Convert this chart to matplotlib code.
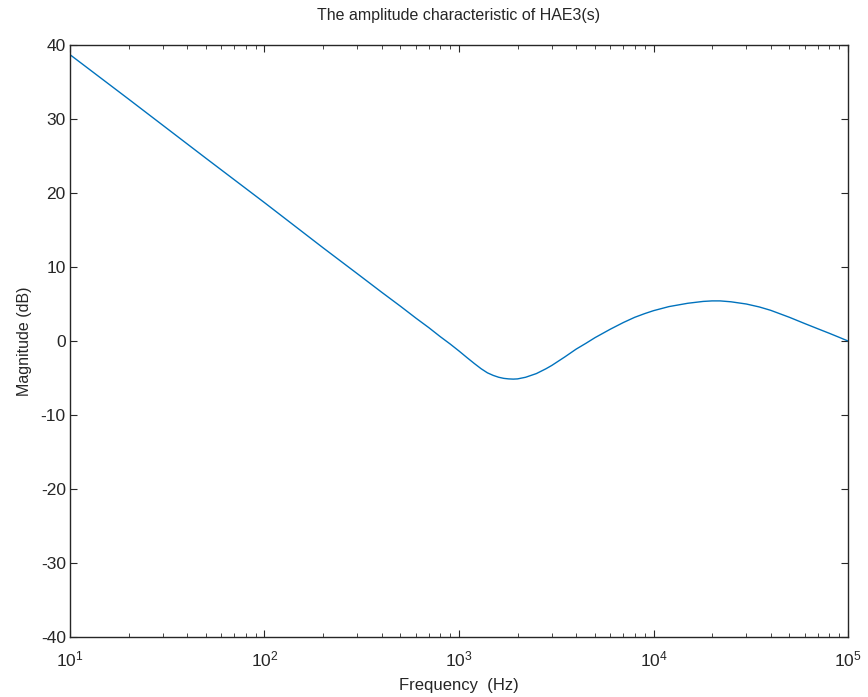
import matplotlib
matplotlib.use("Agg")
import matplotlib.pyplot as plt
from matplotlib.ticker import LogLocator, FixedLocator

plt.rcParams['font.family'] = ['Liberation Sans', 'DejaVu Sans']
plt.rcParams['axes.unicode_minus'] = False

freq_hz = [10, 20, 50, 100, 200, 300, 400, 500, 600, 700, 800, 900, 1000, 1100,
           1200, 1300, 1400, 1500, 1600, 1700, 1800, 1900, 2000, 2200, 2500, 2800, 3000,
           3500, 4000, 4500, 5000, 6000, 7000, 8000, 9000, 10000, 12000, 15000, 18000,
           20000, 22000, 25000, 30000, 35000, 40000, 50000, 60000, 70000, 80000, 90000,
           100000]
magnitude_db = [38.7, 32.7, 24.7, 18.7, 12.6, 9.1, 6.6, 4.7, 3.1, 1.8, 0.6, -0.4, -1.35, -2.25,
                -3.05, -3.75, -4.3, -4.65, -4.9, -5.05, -5.12, -5.15, -5.12, -4.9, -4.4, -3.75, -3.3,
                -2.15, -1.1, -0.3, 0.45, 1.6, 2.5, 3.2, 3.7, 4.1, 4.65, 5.1, 5.35,
                5.42, 5.42, 5.3, 5.0, 4.6, 4.15, 3.2, 2.35, 1.65, 1.05, 0.5,
                0.0]
y_ticks = [-40, -30, -20, -10, 0, 10, 20, 30, 40]

fig = plt.figure(figsize=(8.68, 6.97), dpi=100)
ax = fig.add_axes([0.0806, 0.0861, 0.8964, 0.8493])
ax.plot(freq_hz, magnitude_db, color='#0072BD', linewidth=1.0)
ax.set_xscale('log')
ax.set_xlim(10, 1e5)
ax.set_ylim(-40, 40)
ax.yaxis.set_major_locator(FixedLocator(y_ticks))
ax.xaxis.set_major_locator(LogLocator(base=10, numticks=10))
ax.xaxis.set_minor_locator(LogLocator(base=10, subs=range(2, 10), numticks=20))
ax.tick_params(which='both', direction='in', top=True, right=True, labelsize=12.5, colors='#262626')
ax.tick_params(which='major', length=5, pad=3)
ax.tick_params(which='minor', length=3)
ax.tick_params(axis='x', which='major', pad=9)
for s in ax.spines.values():
    s.set_color('#262626')
    s.set_linewidth(1.0)
ax.set_title('The amplitude characteristic of HAE3(s)', fontsize=11.5, color='#262626', pad=18)
ax.set_xlabel('Frequency  (Hz)', fontsize=12, color='#262626', labelpad=6)
ax.set_ylabel('Magnitude (dB)', fontsize=11.5, color='#262626', labelpad=6)
fig.savefig('out.png', dpi=100)
